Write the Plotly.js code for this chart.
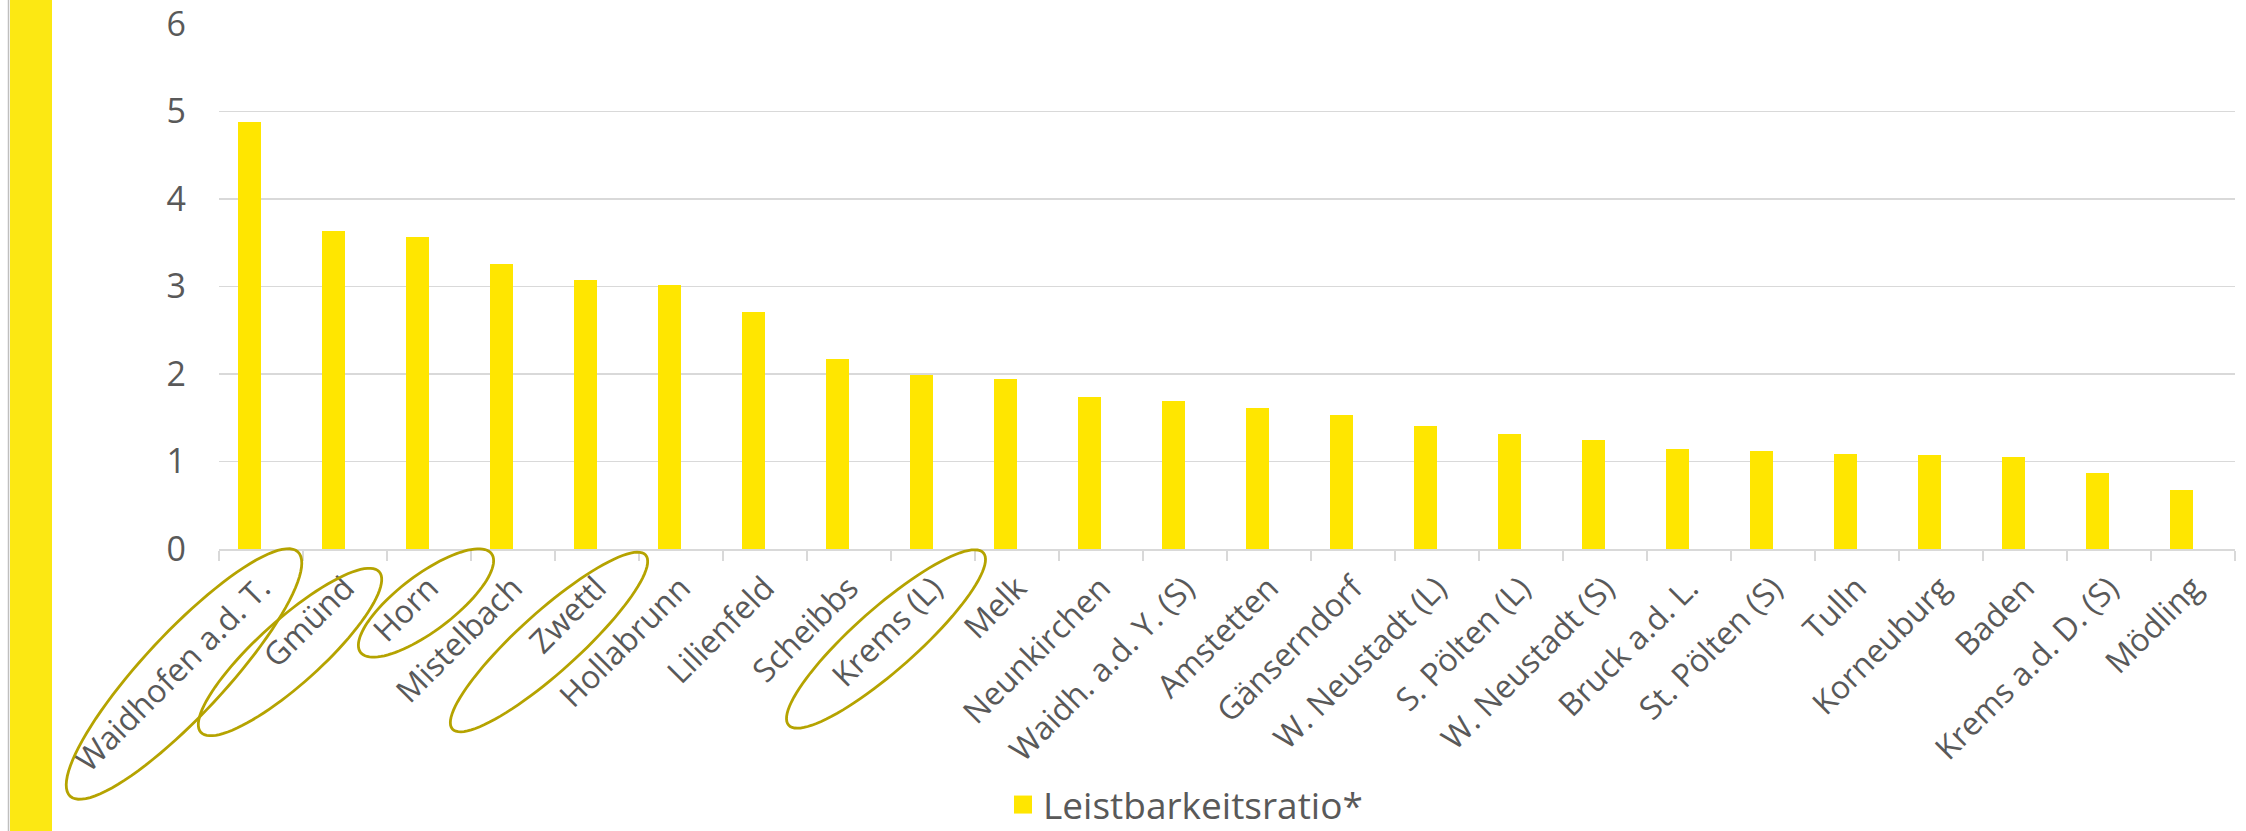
<!DOCTYPE html>
<html>
<head>
<meta charset="utf-8">
<script src="https://cdn.plot.ly/plotly-3.0.1.min.js"></script>
<style>
html,body{margin:0;padding:0;background:#fff;}
#chart{width:2246px;height:831px;}
</style>
</head>
<body>
<div id="chart"></div>
<script>
// ---- data ----
const categories = [
  "Waidhofen a.d. T.", "Gmünd", "Horn", "Mistelbach", "Zwettl", "Hollabrunn",
  "Lilienfeld", "Scheibbs", "Krems (L)", "Melk", "Neunkirchen", "Waidh. a.d. Y. (S)",
  "Amstetten", "Gänserndorf", "W. Neustadt (L)", "S. Pölten (L)", "W. Neustadt (S)",
  "Bruck a.d. L.", "St. Pölten (S)", "Tulln", "Korneuburg", "Baden",
  "Krems a.d. D. (S)", "Mödling"
];
const ratioValues = [
  4.88, 3.64, 3.57, 3.26, 3.08, 3.02,
  2.71, 2.17, 1.99, 1.94, 1.74, 1.69,
  1.61, 1.53, 1.41, 1.31, 1.25,
  1.14, 1.12, 1.09, 1.07, 1.05,
  0.87, 0.67
];
const seriesName = "Leistbarkeitsratio*";
const yTickValues = [0, 1, 2, 3, 4, 5, 6];
const highlighted = ["Waidhofen a.d. T.", "Gmünd", "Horn", "Zwettl", "Krems (L)"];

// ---- layout geometry (pixels) ----
const W = 2246, H = 831;
const M = {l: 219, r: 11, t: 24, b: 282, autoexpand: false};
const plotW = W - M.l - M.r, plotH = H - M.t - M.b;
const px2x = px => (px - M.l) / plotW;
const py2y = py => (H - M.b - py) / plotH;
const catW = plotW / categories.length;

// ellipse styles relative to category centre (pixels)
const ellipseStyle = {
  "Waidhofen a.d. T.": {dx: -77, cy: 674, a: 167, b: 41, ang: 47},
  "Gmünd":            {dx: -55, cy: 652, a: 120, b: 32, ang: 42},
  "Horn":             {dx: -3,  cy: 603, a: 82,  b: 28, ang: 37},
  "Zwettl":           {dx: -48, cy: 642, a: 130, b: 30, ang: 42},
  "Krems (L)":        {dx: -47, cy: 639, a: 130, b: 31, ang: 41.5}
};

function ellipsePath(cx, cy, a, b, angDeg) {
  const th = angDeg * Math.PI / 180;
  const ux = Math.cos(th), uy = -Math.sin(th);
  const vx = Math.sin(th), vy = Math.cos(th);
  let p = "";
  const n = 96;
  for (let k = 0; k <= n; k++) {
    const t = 2 * Math.PI * k / n;
    const X = cx + a * Math.cos(t) * ux + b * Math.sin(t) * vx;
    const Y = cy + a * Math.cos(t) * uy + b * Math.sin(t) * vy;
    p += (k === 0 ? "M " : " L ") + px2x(X).toFixed(5) + " " + py2y(Y).toFixed(5);
  }
  return p + " Z";
}

const shapes = [];
// left yellow strip with thin grey edge
shapes.push({type: "rect", xref: "paper", yref: "paper", layer: "below",
  x0: px2x(10), x1: px2x(52), y0: py2y(H + 2), y1: py2y(-2),
  fillcolor: "#FCE813", line: {width: 0}});
shapes.push({type: "line", xref: "paper", yref: "paper", layer: "below",
  x0: px2x(8.5), x1: px2x(8.5), y0: py2y(H + 2), y1: py2y(-2),
  line: {color: "#BFBFBF", width: 1.5}});

highlighted.forEach(name => {
  const i = categories.indexOf(name);
  const s = ellipseStyle[name];
  const cx = M.l + catW * (i + 0.5) + s.dx;
  shapes.push({type: "path", xref: "paper", yref: "paper", layer: "above",
    path: ellipsePath(cx, s.cy, s.a, s.b, s.ang),
    line: {color: "#B5A300", width: 2.8}, fillcolor: "rgba(0,0,0,0)"});
});

const barFrac = 23 / catW;
const trace = {
  type: "bar",
  x: categories,
  y: ratioValues,
  name: seriesName,
  marker: {color: "#FFE600", line: {width: 0}},
  width: barFrac,
  offset: -barFrac,
  showlegend: true
};

const layout = {
  width: W, height: H,
  margin: M,
  paper_bgcolor: "#ffffff",
  plot_bgcolor: "#ffffff",
  font: {family: "Open Sans, Segoe UI, sans-serif", color: "#595959"},
  showlegend: true,
  legend: {
    orientation: "h", x: px2x(1003), xanchor: "left", y: py2y(805), yanchor: "middle",
    font: {size: 37, color: "#595959"}, itemwidth: 30, tracegroupgap: 0
  },
  xaxis: {
    type: "category",
    tickangle: -45,
    tickfont: {size: 32, color: "#595959"},
    showline: true, linecolor: "#D9D9D9", linewidth: 1.5,
    ticks: "outside", ticklen: 10, tickwidth: 1.5, tickcolor: "#D9D9D9",
    tickson: "boundaries",
    ticklabelstandoff: 6,
    ticklabeloverflow: "allow",
    showgrid: false, zeroline: false,
    range: [-0.5, categories.length - 0.5],
    fixedrange: true
  },
  yaxis: {
    range: [0, 6.0005],
    tickvals: yTickValues,
    tickfont: {size: 34, color: "#595959"},
    showgrid: true, gridcolor: "#D9D9D9", gridwidth: 1.5,
    zeroline: false, showline: false, ticks: "",
    ticklabelstandoff: 32,
    ticklabeloverflow: "allow",
    fixedrange: true
  },
  bargap: 0,
  shapes: shapes
};

Plotly.newPlot("chart", [trace], layout, {displayModeBar: false, staticPlot: true}).then(gd => {
  // draw the legend swatch as a larger square like the original
  gd.querySelectorAll(".legend .legendpoints path").forEach(p => {
    p.setAttribute("d", "M9,9H-9V-9H9Z");
  });
});
</script>
</body>
</html>
